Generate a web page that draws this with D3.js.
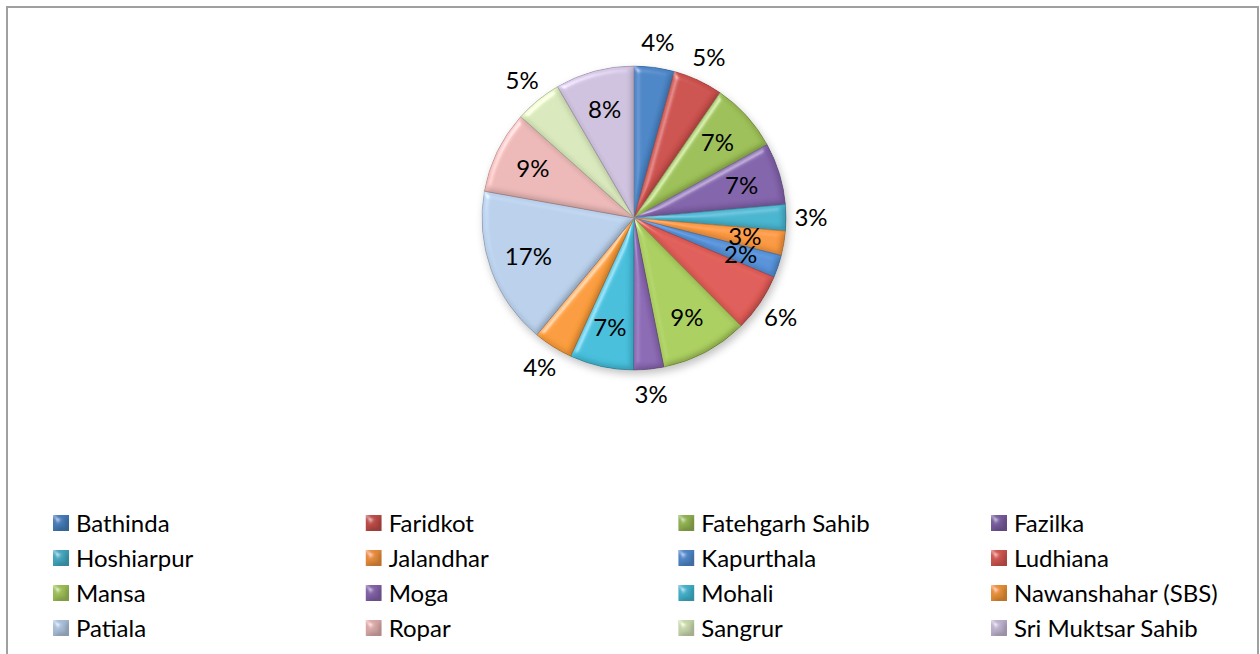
<!DOCTYPE html>
<html><head><meta charset="utf-8">
<script src="https://cdn.jsdelivr.net/npm/d3@7"></script>
<style>
html,body{margin:0;padding:0;background:#fff;}
text{font-family:Lato,"Open Sans",sans-serif;fill:#000;}
</style></head>
<body><svg id="chart" width="1260" height="654"></svg>
<script>
const districts = ["Bathinda","Faridkot","Fatehgarh Sahib","Fazilka","Hoshiarpur","Jalandhar","Kapurthala","Ludhiana","Mansa","Moga","Mohali","Nawanshahar (SBS)","Patiala","Ropar","Sangrur","Sri Muktsar Sahib"];
const shares = [4.3,5.3,7.4,6.6,2.8,2.6,2.4,6.2,9.3,3.2,6.8,4.2,16.8,8.8,5.0,8.4];
const colors = ["#4A84C4","#C9504C","#9BBD55","#8061A8","#47B2CC","#F7963F","#5590D6","#DC5A55","#A9CC5E","#8A68B2","#45BCD8","#F79A3A","#B7CDE8","#E9B6B5","#D7E6BA","#CCBFDC"];
const labelPlacement = ["out","out","in","in","out","in","in","out","in","out","in","out","in","in","out","in"];

const svg = d3.select("#chart");
// chart border
svg.append("rect").attr("x",7).attr("y",7).attr("width",1251).attr("height",660)
  .attr("fill","#fff").attr("stroke","#a0a0a0").attr("stroke-width",2);

const defs = svg.append("defs");
const bevel = defs.append("filter").attr("id","bevel").attr("x","-10%").attr("y","-10%").attr("width","120%").attr("height","120%");
bevel.append("feGaussianBlur").attr("in","SourceAlpha").attr("stdDeviation",3).attr("result","blur");
const spec = bevel.append("feSpecularLighting").attr("in","blur").attr("surfaceScale",4)
  .attr("specularConstant",0.7).attr("specularExponent",30).attr("lighting-color","#ffffff").attr("result","spec");
spec.append("feDistantLight").attr("azimuth",225).attr("elevation",35);
bevel.append("feComposite").attr("in","spec").attr("in2","SourceAlpha").attr("operator","in").attr("result","specOut");
const diff = bevel.append("feDiffuseLighting").attr("in","blur").attr("surfaceScale",4)
  .attr("diffuseConstant",1.1).attr("lighting-color","#ffffff").attr("result","diff");
diff.append("feDistantLight").attr("azimuth",225).attr("elevation",60);
bevel.append("feComposite").attr("in","diff").attr("in2","SourceAlpha").attr("operator","in").attr("result","diffOut");
bevel.append("feComposite").attr("in","SourceGraphic").attr("in2","diffOut").attr("operator","arithmetic")
  .attr("k1",0.6).attr("k2",0.45).attr("k3",0).attr("k4",0).attr("result","lit");
bevel.append("feComposite").attr("in","lit").attr("in2","specOut").attr("operator","arithmetic")
  .attr("k1",0).attr("k2",1).attr("k3",0.5).attr("k4",0);

const shadow = defs.append("filter").attr("id","shadow").attr("x","-20%").attr("y","-20%").attr("width","140%").attr("height","140%");
shadow.append("feGaussianBlur").attr("stdDeviation",4);

const cx = 634, cy = 218, R = 152;
const g = svg.append("g").attr("transform",`translate(${cx},${cy})`);
const data = districts.map((d,i)=>({name:d,value:shares[i],color:colors[i],place:labelPlacement[i]}));
const pie = d3.pie().value(d=>d.value).sort(null);
const arcs = pie(data);
const arc = d3.arc().innerRadius(0).outerRadius(R);

g.append("circle").attr("cx",2).attr("cy",4).attr("r",R).attr("fill","#000").attr("opacity",0.25).attr("filter","url(#shadow)");

g.selectAll("path.slice").data(arcs).join("path").attr("class","slice")
  .attr("d",arc).attr("fill",d=>d.data.color).attr("filter","url(#bevel)")
  .attr("stroke",d=>d3.color(d.data.color).darker(0.7)).attr("stroke-width",0.8);

const total = d3.sum(shares);
const inArc = d3.arc().innerRadius(R*0.74).outerRadius(R*0.74);
const outArc = d3.arc().innerRadius(177).outerRadius(177);
g.selectAll("text.lbl").data(arcs).join("text").attr("class","lbl")
  .attr("transform",d=>`translate(${(d.data.place==="in"?inArc:outArc).centroid(d)})`)
  .attr("text-anchor","middle").attr("dy","0.36em").attr("font-size",24)
  .text(d=>Math.round(d.data.value/total*100)+"%");

// legend
const colX = d3.scalePoint().domain([0,1,2,3]).range([53,991]);
const rowY = d3.scalePoint().domain([0,1,2,3]).range([523,628]);
const leg = svg.append("g");
const items = leg.selectAll("g").data(data).join("g")
  .attr("transform",(d,i)=>`translate(${colX(i%4)},${rowY(Math.floor(i/4))})`);
items.append("rect").attr("x",0).attr("y",-8).attr("width",16).attr("height",16)
  .attr("fill",d=>d3.color(d.color).darker(0.3)).attr("filter","url(#bevel)");
items.append("text").attr("x",23).attr("dy","0.36em").attr("font-size",24).text(d=>d.name);
</script></body></html>
